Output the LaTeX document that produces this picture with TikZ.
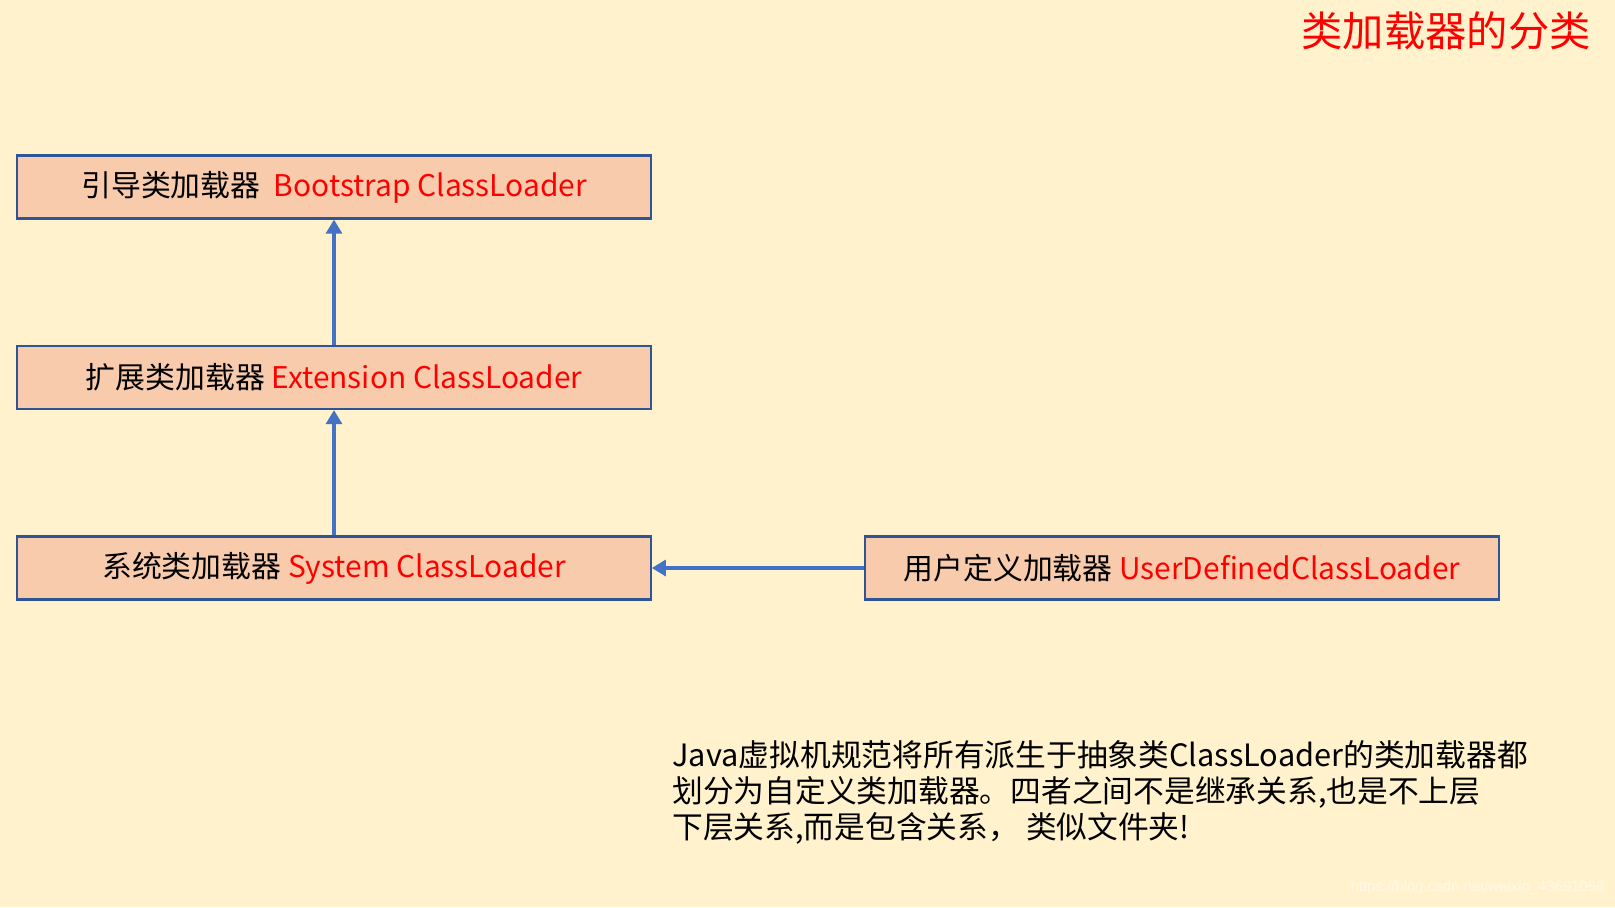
\documentclass[tikz,border=0pt]{standalone}
\usepackage{fontspec}
\setmainfont{Noto Sans CJK SC}
\newfontfamily\wmfont{Liberation Sans}
\usetikzlibrary{arrows.meta}
\definecolor{fond}{HTML}{FFF2CC}
\definecolor{saumon}{HTML}{F8CBAD}
\definecolor{bordure}{HTML}{2F5597}
\definecolor{fleche}{HTML}{4472C4}

\begin{document}
\begin{tikzpicture}[x=0.02cm,y=-0.02cm,
	boite/.style={draw=bordure,fill=saumon,line width=1.2pt,minimum width=12.67cm,minimum height=1.26cm,inner sep=0pt,font=\fontsize{17}{21}\selectfont},
	lien/.style={draw=fleche,line width=2.8pt,-{Triangle[length=8pt,width=9pt]}}]
	%
	% Fond
	\fill[fond] (0,0) rectangle (1615,907);
	\useasboundingbox (0,0) rectangle (1615,907);
	%
	% Titre
	\node[anchor=east,text=red,font=\fontsize{23.5}{28}\selectfont,inner sep=0pt] (titre) at (1591,31) {类加载器的分类};
	%
	% Chargeurs de classes
	\node[boite] (boot) at (334,187) {引导类加载器\ \ \textcolor{red}{Bootstrap ClassLoader}};
	\node[boite] (ext) at (334,377.5) {扩展类加载器 \textcolor{red}{Extension ClassLoader}};
	\node[boite] (sys) at (334,568) {系统类加载器 \textcolor{red}{System ClassLoader}};
	\node[boite] (user) at (1182,568) {用户定义加载器 \textcolor{red}{UserDefinedClassLoader}};
	%
	% Fleches
	\draw[lien] (ext.north) -- (boot.south);
	\draw[lien] (sys.north) -- (ext.south);
	\draw[lien] (user.west) -- (sys.east);
	%
	% Remarque
	\node[anchor=west,align=left,inner sep=0pt,font=\fontsize{17.5}{20.5}\selectfont] (note) at (672,792)
		{Java虚拟机规范将所有派生于抽象类ClassLoader的类加载器都\\
		 划分为自定义类加载器。四者之间不是继承关系,也是不上层\\
		 下层关系,而是包含关系，\ 类似文件夹!};
	%
	% Filigrane
	\node[anchor=east,text=white!55!fond,font=\wmfont\fontsize{8.5}{10}\selectfont,inner sep=0pt] (marque) at (1605,888) {https://blog.csdn.net/weixin\_43691058};
\end{tikzpicture}
\end{document}
